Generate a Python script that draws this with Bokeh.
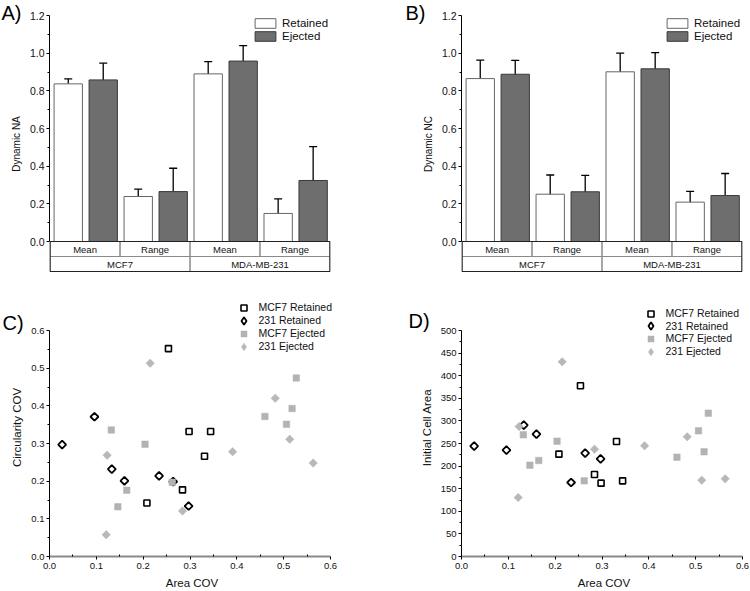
from bokeh.plotting import figure
from bokeh.layouts import column, row
from bokeh.models import (Range1d, ColumnDataSource, Whisker, TeeHead, Legend, LegendItem,
                          FixedTicker, PrintfTickFormatter)
from bokeh.core.properties import value
from bokeh.embed import file_html
from bokeh.resources import INLINE
import numpy as np

# ---------------- data ----------------
groups = ["MCF7", "MDA-MB-231"]
measures = ["Mean", "Range"]

na_retained = [0.837, 0.239, 0.890, 0.149]
na_retained_err = [0.027, 0.039, 0.065, 0.077]
na_ejected = [0.858, 0.265, 0.958, 0.324]
na_ejected_err = [0.089, 0.124, 0.082, 0.180]

nc_retained = [0.865, 0.251, 0.901, 0.209]
nc_retained_err = [0.098, 0.102, 0.099, 0.057]
nc_ejected = [0.888, 0.264, 0.917, 0.244]
nc_ejected_err = [0.074, 0.087, 0.086, 0.117]

bar_yticks = [0.0, 0.2, 0.4, 0.6, 0.8, 1.0, 1.2]
bar_yminor = [0.1, 0.3, 0.5, 0.7, 0.9, 1.1]

mcf7_ret_area_cov = [0.254, 0.298, 0.344, 0.331, 0.284, 0.208]
mcf7_ret_circ_cov = [0.552, 0.332, 0.332, 0.266, 0.177, 0.142]
mcf7_ret_cell_area = [377.6, 162.3, 167.4, 254.4, 181.4, 226.4]

c231_ret_area_cov = [0.027, 0.096, 0.133, 0.160, 0.234, 0.264, 0.297]
c231_ret_circ_cov = [0.297, 0.371, 0.232, 0.201, 0.214, 0.199, 0.134]
c231_ret_cell_area = [244.1, 235.3, 290.6, 270.7, 163.7, 228.6, 216.1]

mcf7_ej_area_cov = [0.132, 0.204, 0.165, 0.146, 0.262, 0.460, 0.506, 0.518, 0.527]
mcf7_ej_circ_cov = [0.336, 0.298, 0.176, 0.132, 0.197, 0.372, 0.351, 0.393, 0.474]
mcf7_ej_cell_area = [269.2, 255.2, 212.4, 202.1, 167.4, 219.8, 278.0, 231.6, 317.1]

c231_ej_area_cov = [0.215, 0.123, 0.121, 0.284, 0.391, 0.482, 0.513, 0.563]
c231_ej_circ_cov = [0.513, 0.269, 0.058, 0.121, 0.278, 0.420, 0.311, 0.248]
c231_ej_cell_area = [430.7, 287.6, 130.5, 237.5, 244.9, 264.8, 168.9, 171.8]

cov_ticks = [0.0, 0.1, 0.2, 0.3, 0.4, 0.5, 0.6]
cov_minor = [0.05, 0.15, 0.25, 0.35, 0.45, 0.55]
area_ticks = [0, 50, 100, 150, 200, 250, 300, 350, 400, 450, 500]
area_minor = [25, 75, 125, 175, 225, 275, 325, 375, 425, 475]

series_labels = ["MCF7 Retained", "231 Retained", "MCF7 Ejected", "231 Ejected"]

FONT = "Liberation Sans"

# marker styles: (plot marker, angle, size, fill, line, line width, legend marker, legend glyph px)
STYLES = [
    ("square", 0.0, 6.0, "white", "black", 1.6, None, 15),
    ("square", np.pi / 4, 5.6, "white", "black", 1.8, "diamond", 19),
    ("square", 0.0, 6.5, "#b3b3b3", "#b3b3b3", 0.5, None, 15),
    ("square", np.pi / 4, 6.0, "#b8b8b8", "#b8b8b8", 0.5, "diamond", 19),
]


def style_axis(ax, tick_size="10px", label_size="10px"):
    ax.major_label_text_font = FONT
    ax.major_label_text_font_size = tick_size
    ax.major_label_text_color = "#111111"
    ax.major_label_text_line_height = 1.0
    ax.axis_label_text_font = FONT
    ax.axis_label_text_font_size = label_size
    ax.axis_label_text_font_style = "normal"
    ax.axis_label_text_color = "#111111"
    ax.axis_label_text_line_height = 1.0
    ax.major_tick_in = 0
    ax.major_tick_out = 3
    ax.minor_tick_in = 0
    ax.minor_tick_out = 2
    ax.major_label_standoff = 2
    ax.axis_label_standoff = 5
    ax.axis_line_color = "black"
    ax.major_tick_line_color = "black"
    ax.minor_tick_line_color = "black"


def set_letter(p, letter, offset, standoff):
    p.title.text = letter
    p.title.text_font = FONT
    p.title.text_font_size = "20px"
    p.title.text_font_style = "normal"
    p.title.text_color = "black"
    p.title.align = "left"
    p.title.offset = offset
    p.title.standoff = standoff


def bar_panel(retained, ret_err, ejected, ej_err, ylabel, letter, bl, br, letter_x, letter_so):
    px_per_unit = 226 / 1.2
    p = figure(frame_width=281, frame_height=257, output_backend="svg", toolbar_location=None,
               x_range=Range1d(-0.008, 4.008), y_range=Range1d(-31 / px_per_unit, 1.2),
               x_axis_location=None, min_border_left=bl, min_border_right=br,
               min_border_top=15, min_border_bottom=18)
    p.outline_line_color = None
    p.grid.visible = False
    p.background_fill_color = "white"

    n = len(retained)
    xr = [i + 0.26 for i in range(n)]
    xe = [i + 0.76 for i in range(n)]
    r1 = p.vbar(x=xr, top=retained, bottom=0, width=0.405, fill_color="white",
                line_color="#666666", line_width=1)
    r2 = p.vbar(x=xe, top=ejected, bottom=0, width=0.405, fill_color="#6e6e6e",
                line_color="#3a3a3a", line_width=1)

    for xs, vals, errs in ((xr, retained, ret_err), (xe, ejected, ej_err)):
        src = ColumnDataSource(dict(base=xs,
                                    upper=[v + e for v, e in zip(vals, errs)],
                                    lower=[v - e for v, e in zip(vals, errs)]))
        w = Whisker(base="base", upper="upper", lower="lower", source=src, dimension="height",
                    line_color="black", line_width=1.3,
                    upper_head=TeeHead(size=8, line_color="black", line_width=1.3),
                    lower_head=TeeHead(size=8, line_color="black", line_width=1.3))
        p.add_layout(w)

    # category boxes
    rh = 15 / px_per_unit
    sub = [m for g in groups for m in measures]
    p.quad(left=list(range(len(sub))), right=[i + 1 for i in range(len(sub))],
           top=0, bottom=-rh, fill_color=None, line_color="#8a8a8a", line_width=1)
    k = len(measures)
    p.quad(left=[g * k for g in range(len(groups))], right=[(g + 1) * k for g in range(len(groups))],
           top=-rh, bottom=-2 * rh, fill_color=None, line_color="#8a8a8a", line_width=1)
    p.quad(left=[0], right=[len(sub)], top=[0], bottom=[-2 * rh], fill_color=None,
           line_color="#222222", line_width=1.2)
    p.text(x=[i + 0.5 for i in range(len(sub))], y=[-rh / 2] * len(sub), text=sub,
           text_font=value(FONT), text_font_size=value("9.5px"), text_align="center",
           text_baseline="middle", text_color="#111111")
    p.text(x=[g * k + k / 2 for g in range(len(groups))], y=[-1.5 * rh] * len(groups), text=groups,
           text_font=value(FONT), text_font_size=value("9.5px"), text_align="center",
           text_baseline="middle", text_color="#111111")

    ax = p.yaxis[0]
    style_axis(ax, tick_size="10.5px", label_size="10px")
    ax.bounds = (0, 1.2)
    ax.ticker = FixedTicker(ticks=bar_yticks, minor_ticks=bar_yminor)
    ax.formatter = PrintfTickFormatter(format="%.1f")
    ax.axis_label = ylabel

    leg = Legend(items=[LegendItem(label="Retained", renderers=[r1]),
                        LegendItem(label="Ejected", renderers=[r2])],
                 location=(203, 230), padding=0, margin=0, spacing=1,
                 glyph_width=26, glyph_height=12, label_standoff=4, label_height=12,
                 label_text_font=FONT, label_text_font_size="11.5px",
                 label_text_line_height=1.0,
                 label_text_color="#111111",
                 border_line_alpha=0, background_fill_alpha=0)
    p.add_layout(leg)
    set_letter(p, letter, letter_x, letter_so)
    return p


def scatter_panel(ysets, yticks, yminor, ytop, ylabel, letter, bl, br, letter_x, letter_so,
                  leg_cx, leg_cy, leg_pitch, yfmt):
    # frame extends 32px above the top tick and 4px right of 0.6 so the legend fits inside
    extra_y = 32 * ytop / 226
    extra_x = 4 * 0.6 / 281
    p = figure(frame_width=285, frame_height=258, output_backend="svg", toolbar_location=None,
               x_range=Range1d(0, 0.6 + extra_x), y_range=Range1d(0, ytop + extra_y),
               min_border_left=bl, min_border_right=br, min_border_top=8, min_border_bottom=0)
    p.outline_line_color = None
    p.grid.visible = False

    xsets = [mcf7_ret_area_cov, c231_ret_area_cov, mcf7_ej_area_cov, c231_ej_area_cov]
    for i, (xs, ys, st, lab) in enumerate(zip(xsets, ysets, STYLES, series_labels)):
        marker, ang, size, fill, line, lw, lmarker, g = st
        r = p.scatter(x=xs, y=ys, marker=marker, angle=ang, size=size, fill_color=fill,
                      line_color=line, line_width=lw)
        if lmarker is not None:
            # legend-only renderer: Bokeh draws legend markers unrotated, so use a diamond marker
            # (a single NaN point, which is not drawn in the plot area)
            r = p.scatter(x=np.array([np.nan]), y=np.array([np.nan]), marker=lmarker,
                          fill_color=fill, line_color=line, line_width=lw)
        cy = leg_cy - i * leg_pitch
        leg = Legend(items=[LegendItem(label=lab, renderers=[r])],
                     location=(leg_cx - g / 2, cy - g / 2), padding=0, margin=0, spacing=0,
                     glyph_width=g, glyph_height=g, label_standoff=int(round(15 - g / 2)),
                     label_height=12,
                     label_text_font=FONT, label_text_font_size="10.5px",
                     label_text_line_height=1.0, label_text_color="#111111",
                     border_line_alpha=0, background_fill_alpha=0)
        p.add_layout(leg)

    xa = p.xaxis[0]
    style_axis(xa, tick_size="9.5px", label_size="11.5px")
    xa.bounds = (0, 0.6)
    xa.ticker = FixedTicker(ticks=cov_ticks, minor_ticks=cov_minor)
    xa.formatter = PrintfTickFormatter(format="%.1f")
    xa.axis_label = "Area COV"
    xa.axis_line_color = "#8a8a8a"
    xa.axis_line_width = 2
    xa.minor_tick_in = 2
    xa.minor_tick_out = 0
    xa.major_label_standoff = 3
    xa.axis_label_standoff = 5

    ya = p.yaxis[0]
    style_axis(ya, tick_size="9.5px", label_size="11.5px")
    ya.bounds = (0, ytop)
    ya.ticker = FixedTicker(ticks=yticks, minor_ticks=yminor)
    ya.formatter = PrintfTickFormatter(format=yfmt)
    ya.axis_label = ylabel

    set_letter(p, letter, letter_x, letter_so)
    return p


pA = bar_panel(na_retained, na_retained_err, na_ejected, na_ejected_err, "Dynamic NA", "A)",
               49, 45, -48, -16)
pB = bar_panel(nc_retained, nc_retained_err, nc_ejected, nc_ejected_err, "Dynamic NC", "B)",
               86, 8, -56, -16)
pC = scatter_panel([mcf7_ret_circ_cov, c231_ret_circ_cov, mcf7_ej_circ_cov, c231_ej_circ_cov],
                   cov_ticks, cov_minor, 0.6, "Circularity COV", "C)", 49, 41, -47, -70,
                   194, 249, 13, "%.1f")
pD = scatter_panel([mcf7_ret_cell_area, c231_ret_cell_area, mcf7_ej_cell_area, c231_ej_cell_area],
                   area_ticks, area_minor, 500, "Initial Cell Area", "D)", 86, 4, -53, -66,
                   189, 243, 12.7, "%d")

layout = column(row(pA, pB), row(pC, pD))
open("out.html", "w").write(file_html(layout, INLINE))
